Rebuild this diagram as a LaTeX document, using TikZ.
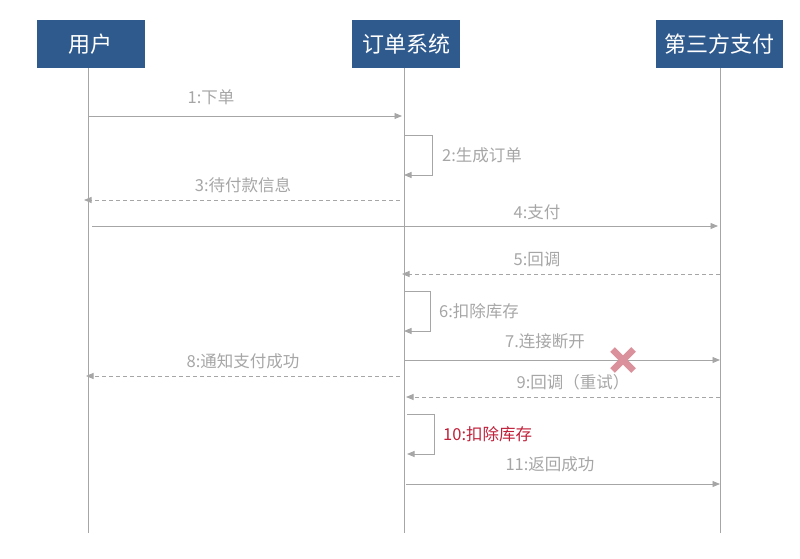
\documentclass[tikz,border=0pt]{standalone}
\usepackage{fontspec}
\setmainfont{Noto Sans CJK SC}
\usetikzlibrary{arrows.meta,positioning,calc}
\definecolor{headblue}{HTML}{2F5A8E}
\definecolor{linegray}{HTML}{A6A6A6}
\definecolor{msgred}{HTML}{C0203A}
\definecolor{crosspink}{HTML}{DB919B}
\tikzset{
    head/.style={fill=headblue, text=white, minimum width=108pt, minimum height=48pt,
        inner sep=0pt, font=\fontsize{22}{26}\selectfont},
    msg/.style={draw=linegray, line width=0.9pt, -{Triangle[length=7.5pt,width=6pt]}},
    reply/.style={msg, dashed, dash pattern=on 4pt off 3pt},
    lbl/.style={text=linegray, font=\fontsize{16.5}{20}\selectfont, inner sep=0pt}
}
\begin{document}
\begin{tikzpicture}[x=1pt, y=-1pt]
    \useasboundingbox (0, 0) rectangle (800, 559);
    % lifeline heads
    \node[head] (user) at (90.5, 44) {用户};
    \node[head] (order) at (406, 44) {订单系统};
    \node[head, minimum width=127pt] (pay) at (719.5, 44) {第三方支付};
    % lifelines
    \coordinate (userend) at (88, 533);
    \coordinate (orderend) at (404, 533);
    \coordinate (payend) at (720, 533);
    \draw[linegray, line width=0.9pt]
    (user.south -| userend) -- (userend)
    (order.south -| orderend) -- (orderend)
    (pay.south -| payend) -- (payend);
    % messages
    \coordinate (m1a) at (88, 116);   \coordinate (m1b) at (402, 116);
    \coordinate (m2a) at (404, 135);  \coordinate (m2b) at (432, 135);
    \coordinate (m2c) at (432, 175);  \coordinate (m2d) at (404, 175);
    \coordinate (m3a) at (400, 200);  \coordinate (m3b) at (84, 200);
    \coordinate (m4a) at (92, 226);   \coordinate (m4b) at (718, 226);
    \coordinate (m5a) at (720, 274);  \coordinate (m5b) at (402, 274);
    \coordinate (m6a) at (404, 291);  \coordinate (m6b) at (430, 291);
    \coordinate (m6c) at (430, 331);  \coordinate (m6d) at (404, 331);
    \coordinate (m7a) at (404, 360);  \coordinate (m7b) at (720, 360);
    \coordinate (m8a) at (400, 376);  \coordinate (m8b) at (86, 376);
    \coordinate (m9a) at (720, 397);  \coordinate (m9b) at (406, 397);
    \coordinate (m10a) at (407, 414); \coordinate (m10b) at (434, 414);
    \coordinate (m10c) at (434, 454); \coordinate (m10d) at (407, 454);
    \coordinate (m11a) at (406, 484); \coordinate (m11b) at (720, 484);
    \draw[msg] (m1a) -- (m1b);
    \draw[msg] (m2a) -- (m2b) -- (m2c) -- (m2d);
    \draw[reply] (m3a) -- (m3b);
    \draw[msg] (m4a) -- (m4b);
    \draw[reply] (m5a) -- (m5b);
    \draw[msg] (m6a) -- (m6b) -- (m6c) -- (m6d);
    \draw[msg] (m7a) -- (m7b);
    \draw[reply] (m8a) -- (m8b);
    \draw[reply] (m9a) -- (m9b);
    \draw[msg] (m10a) -- (m10b) -- (m10c) -- (m10d);
    \draw[msg] (m11a) -- (m11b);
    % labels
    \node[lbl] (l1) at (211, 97) {1:下单};
    \node[lbl, anchor=west] (l2) at (442, 155) {2:生成订单};
    \node[lbl] (l3) at (243, 185) {3:待付款信息};
    \node[lbl] (l4) at (537, 212) {4:支付};
    \node[lbl] (l5) at (537, 259) {5:回调};
    \node[lbl, anchor=west] (l6) at (439, 311) {6:扣除库存};
    \node[lbl] (l7) at (545, 341) {7.连接断开};
    \node[lbl] (l8) at (243, 361) {8:通知支付成功};
    \node[lbl] (l9) at (573, 382) {9:回调（重试）};
    \node[lbl, anchor=west, text=msgred] (l10) at (443, 434) {10:扣除库存};
    \node[lbl] (l11) at (550, 464) {11:返回成功};
    % broken connection
    \node (cross) at (623, 360) {};
    \draw[crosspink, line width=6.5pt]
    ($(cross)+(-10.5,-10.5)$) -- ($(cross)+(10.5,10.5)$)
    ($(cross)+(-10.5,10.5)$) -- ($(cross)+(10.5,-10.5)$);
\end{tikzpicture}
\end{document}
